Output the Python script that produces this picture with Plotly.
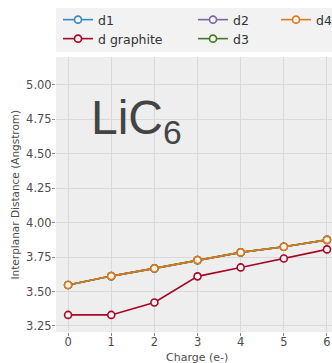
import plotly.graph_objects as go

# Charge states (electrons added per cell)
charge = [0, 1, 2, 3, 4, 5, 6]

# Interplanar distances in Angstrom
d_graphite = [3.33, 3.33, 3.42, 3.61, 3.675, 3.74, 3.806]
d1 = [3.547, 3.612, 3.668, 3.728, 3.784, 3.825, 3.875]
d2 = [3.547, 3.612, 3.668, 3.728, 3.784, 3.825, 3.875]
d3 = [3.547, 3.612, 3.668, 3.728, 3.784, 3.825, 3.875]
d4 = [3.547, 3.612, 3.668, 3.728, 3.784, 3.825, 3.875]

y_ticks = [3.25, 3.50, 3.75, 4.00, 4.25, 4.50, 4.75, 5.00]

W, H = 332, 363
ml, mt, mb = 56, 57, 31
pw, ph = W - ml, H - mt - mb

# (name, values, colour, legend id, legend left px, legend row centre px)
series = [
    ("d1", d1, "#348ABD", "legend", 58, 20),
    ("d graphite", d_graphite, "#A60628", "legend2", 58, 39),
    ("d2", d2, "#7A68A6", "legend3", 193, 20),
    ("d3", d3, "#467821", "legend4", 193, 39),
    ("d4", d4, "#DD7A1E", "legend5", 276, 20),
]

fig = go.Figure()
legends = {}
legend_font = dict(family="DejaVu Sans", size=12.5, color="#333333")
for name, vals, color, leg, lx, ly in series:
    fig.add_trace(go.Scatter(
        x=charge, y=vals, name=name, mode="lines+markers",
        line=dict(color=color, width=1.6),
        marker=dict(symbol="circle", size=7, color="#f6f2ee",
                    line=dict(color=color, width=1.6)),
        legend=leg, showlegend=True,
    ))
    legends[leg] = dict(
        xref="container", yref="container", x=lx / W, xanchor="left",
        y=1 - ly / H, yanchor="middle", bgcolor="rgba(0,0,0,0)",
        font=legend_font, orientation="v", visible=True,
    )

fig.update_layout(
    width=W, height=H,
    showlegend=True,
    margin=dict(l=ml, r=0, t=mt, b=mb, autoexpand=False),
    paper_bgcolor="white",
    plot_bgcolor="#eeeeee",
    font=dict(family="DejaVu Sans", size=11.5, color="#4d4d4d"),
    **legends,
    xaxis=dict(
        range=[-0.28, 6.116], tickvals=charge, ticks="outside", ticklen=3,
        tickcolor="#8a8a8a", gridcolor="#d9d9d9", gridwidth=1,
        zeroline=False, showline=False, automargin=False,
        ticklabelstandoff=-4,
        tickfont=dict(size=11.5, color="#4d4d4d"),
    ),
    yaxis=dict(
        range=[3.206, 5.203], tickvals=y_ticks, tickformat=".2f",
        ticks="outside", ticklen=3, tickcolor="#8a8a8a",
        gridcolor="#d9d9d9", gridwidth=1, zeroline=False, showline=False,
        automargin=False, ticklabelstandoff=-2,
        tickfont=dict(size=11.5, color="#4d4d4d"),
    ),
    annotations=[
        dict(x=0.49, y=4.735, xref="x", yref="y", xanchor="left",
             yanchor="middle", text="LiC<sub>6</sub>", showarrow=False,
             font=dict(family="Liberation Sans", size=48, color="#444444")),
        # axis titles
        dict(x=(197 - ml) / pw, y=-(357 - (H - mb)) / ph, xref="paper",
             yref="paper", xanchor="center", yanchor="middle",
             text="Charge (e-)", showarrow=False,
             font=dict(family="DejaVu Sans", size=11, color="#4d4d4d")),
        dict(x=(14 - ml) / pw, y=0.5, xref="paper", yref="paper",
             xanchor="center", yanchor="middle", textangle=-90,
             text="Interplanar Distance (Angstrom)", showarrow=False,
             font=dict(family="DejaVu Sans", size=10.5, color="#4d4d4d")),
    ],
    shapes=[dict(
        type="rect", xref="paper", yref="paper",
        x0=0, x1=1.1, y0=(H - mb - 52) / ph, y1=(H - mb - 8) / ph,
        fillcolor="#f2f2f2", line=dict(width=0), layer="below",
    )],
)

fig.write_html("out.html")
